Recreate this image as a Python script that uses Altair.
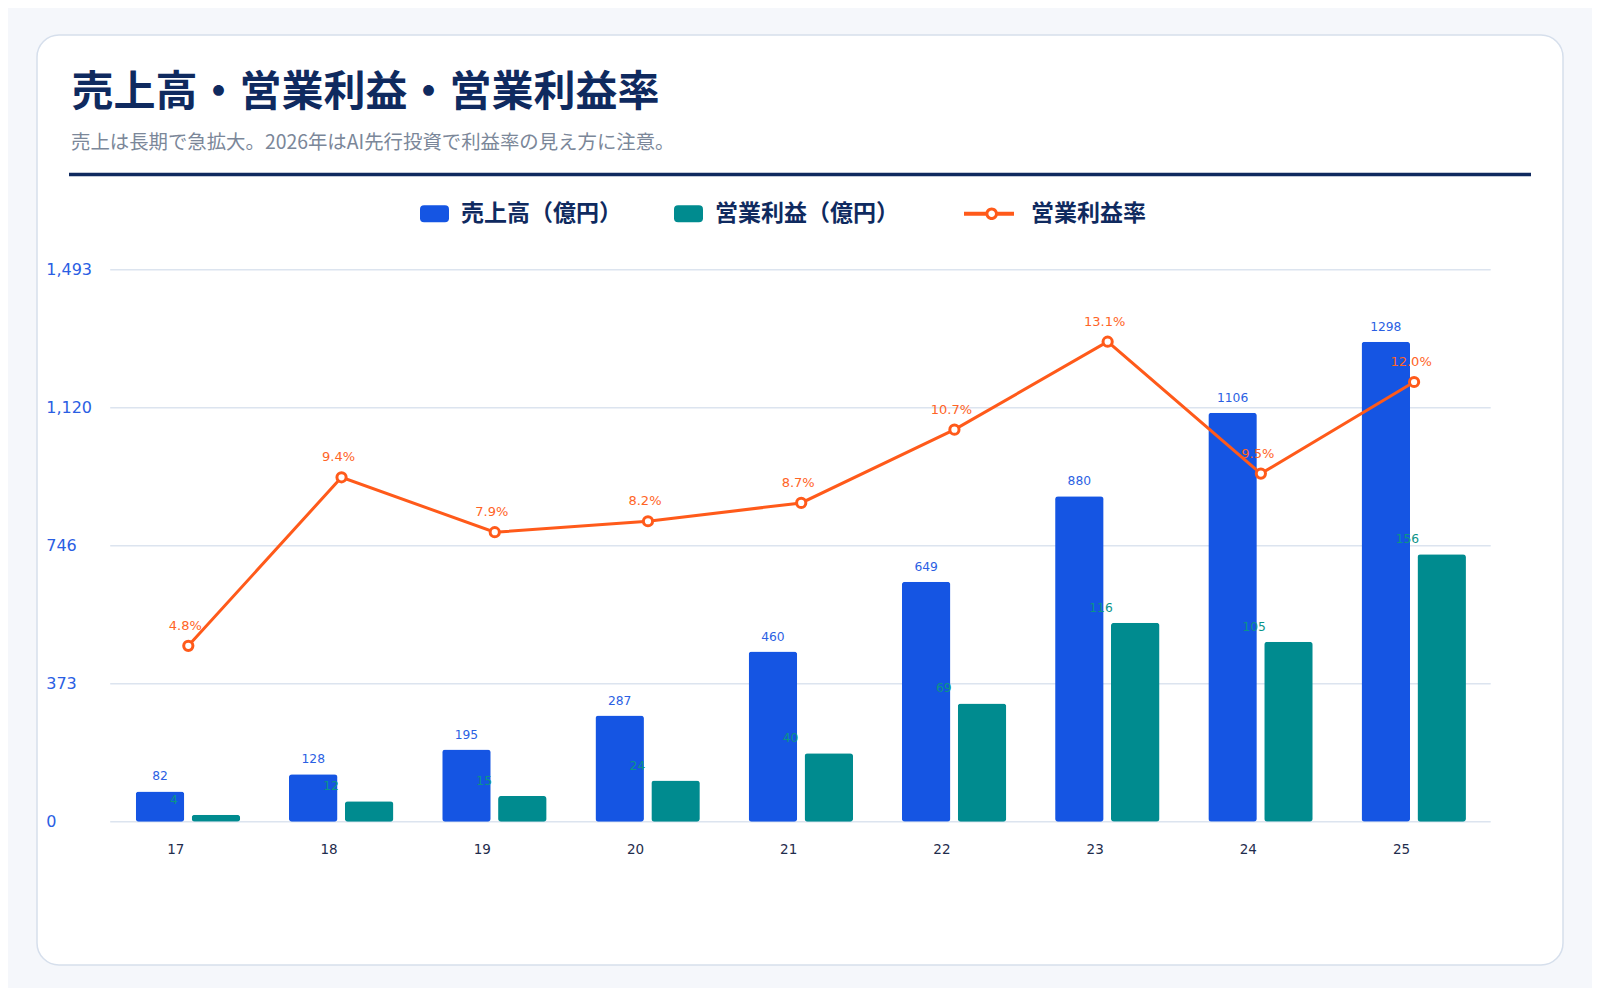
import altair as alt
import pandas as pd

# ---- data ----
years = ["17", "18", "19", "20", "21", "22", "23", "24", "25"]
revenue = [82, 128, 195, 287, 460, 649, 880, 1106, 1298]
profit = [4, 12, 15, 24, 40, 69, 116, 105, 156]
margin = [4.8, 9.4, 7.9, 8.2, 8.7, 10.7, 13.1, 9.5, 12.0]
series = ["売上高（億円）", "営業利益（億円）", "営業利益率"]
y_ticks = [0, 373.175, 746.35, 1119.525, 1492.7]
rev_domain = [0, 1492.7]
prof_domain = [0, 322]
margin_domain = [0, 15.065]

title_text = "売上高・営業利益・営業利益率"
subtitle_text = "売上は長期で急拡大。2026年はAI先行投資で利益率の見え方に注意。"

# ---- style ----
BLUE = "#1555e3"
TEAL = "#008b8f"
ORANGE = "#ff5a1a"
NAVY = "#0f2a5f"
GRID = "#dce4ef"
CJK = "Noto Sans CJK JP"
NUM = "DejaVu Sans"

df = pd.DataFrame({"yr": years, "rev": revenue, "prof": profit, "margin": margin})
one = pd.DataFrame({"k": [0]})
leg = pd.DataFrame({"s": series})
grid_df = pd.DataFrame({"v": y_ticks})

x_axis = alt.Axis(title=None, domain=False, ticks=False, tickSize=0, labelAngle=0,
                  labelFont=NUM, labelFontSize=13.5, labelColor="#1f2d4d",
                  labelPadding=21, labelOffset=-12.5, grid=False, zindex=1)
xenc = alt.X("yr:N", sort=years, axis=x_axis,
             scale=alt.Scale(paddingInner=0, paddingOuter=0))

# card / header decorations
card = alt.Chart(one).mark_rect(fill="white", stroke="#d6dfec", strokeWidth=1.5,
                                cornerRadius=22).encode(
    x=alt.value(-74.7), x2=alt.value(1451.3), y=alt.value(-234.7), y2=alt.value(695.3))
title = alt.Chart(one).mark_text(text=title_text, align="left", baseline="alphabetic",
                                 font=CJK, fontSize=42, fontWeight="bold", color=NAVY).encode(
    x=alt.value(-40.2), y=alt.value(-164.2))
subtitle = alt.Chart(one).mark_text(text=subtitle_text, align="left", baseline="alphabetic",
                                    font=CJK, fontSize=19.4, color="#7b8799").encode(
    x=alt.value(-40.7), y=alt.value(-120.5))
rule = alt.Chart(one).mark_rule(color=NAVY, strokeWidth=3.5).encode(
    x=alt.value(-42.7), x2=alt.value(1419.3), y=alt.value(-95.2))

# horizontal gridlines at the axis tick values
grid = alt.Chart(grid_df).mark_rule(color=GRID, strokeWidth=1.6).encode(
    y=alt.Y("v:Q", scale=alt.Scale(domain=rev_domain), axis=None),
    x=alt.value(-1.5), x2=alt.value(1379))

y_rev_axis = alt.Axis(title=None, values=y_ticks, format=",.0f", domain=False, ticks=False,
                      tickSize=0, labelAlign="left", labelBaseline="middle", labelPadding=66,
                      labelFont=NUM, labelFontSize=16, labelColor="#2a5ee3",
                      grid=False, zindex=1)

rev_bars = alt.Chart(df).mark_bar(color=BLUE, width=48.5, xOffset=-28.3, cornerRadius=3).encode(
    x=xenc, y=alt.Y("rev:Q", scale=alt.Scale(domain=rev_domain), axis=y_rev_axis))
prof_bars = alt.Chart(df).mark_bar(color=TEAL, width=48.5, xOffset=27.6, cornerRadius=3).encode(
    x=xenc, y=alt.Y("prof:Q", scale=alt.Scale(domain=prof_domain), axis=None))

rev_lbl = alt.Chart(df).mark_text(font=NUM, fontSize=12.3, color="#2b5fe3", align="center",
                                  baseline="middle", dx=-28.3, dy=-15).encode(
    x=xenc, y=alt.Y("rev:Q", scale=alt.Scale(domain=rev_domain), axis=None),
    text=alt.Text("rev:Q", format="d"))
prof_lbl = alt.Chart(df).mark_text(font=NUM, fontSize=12.3, color="#0b9488", align="left",
                                   baseline="middle", dx=-18.4, dy=-15).encode(
    x=xenc, y=alt.Y("prof:Q", scale=alt.Scale(domain=prof_domain), axis=None),
    text=alt.Text("prof:Q", format="d"))
mar_lbl = alt.Chart(df).transform_calculate(
    lbl="format(datum.margin, '.1f') + '%'"
).mark_text(font=NUM, fontSize=13, color="#ff6426", align="center",
            baseline="middle", dx=-3, dy=-20).encode(
    x=xenc, y=alt.Y("margin:Q", scale=alt.Scale(domain=margin_domain), axis=None),
    text="lbl:N")

line = alt.Chart(df).mark_line(color=ORANGE, strokeWidth=3).encode(
    x=xenc, y=alt.Y("margin:Q", scale=alt.Scale(domain=margin_domain), axis=None))
pts = alt.Chart(df).mark_point(shape="circle", filled=True, fill="white", stroke=ORANGE,
                               strokeWidth=3, size=85, opacity=1).encode(
    x=xenc, y=alt.Y("margin:Q", scale=alt.Scale(domain=margin_domain), axis=None))

# legend symbols (custom paths in unit square)
rect_path = ("M-0.72,-0.586 H0.72 Q1,-0.586 1,-0.306 V0.306 Q1,0.586 0.72,0.586 "
             "H-0.72 Q-1,0.586 -1,0.306 V-0.306 Q-1,-0.586 -0.72,-0.586 Z")
cx, ro, ri, h = -0.883, 0.434, 0.228, 0.13
line_path = (
    "M-3.65,0 Z "
    f"M-2.793,{-h} H-1.30 V{h} H-2.793 Z "
    f"M-0.47,{-h} H0.655 V{h} H-0.47 Z "
    f"M{cx-ro:.3f},0 A{ro},{ro} 0 1 1 {cx+ro:.3f},0 A{ro},{ro} 0 1 1 {cx-ro:.3f},0 Z "
    f"M{cx-ri:.3f},0 A{ri},{ri} 0 1 0 {cx+ri:.3f},0 A{ri},{ri} 0 1 0 {cx-ri:.3f},0 Z"
)
legend_def = alt.Legend(title=None, orient="none", legendX=308.3, legendY=-70.7,
                        direction="horizontal", padding=0, symbolSize=841,
                        symbolStrokeWidth=0, symbolOpacity=1, labelOffset=12,
                        columnPadding=52, labelFont=CJK, labelFontSize=23,
                        labelFontWeight="bold", labelColor=NAVY, labelLimit=400)
legend_layer = alt.Chart(leg).transform_filter("false").mark_point(filled=True).encode(
    color=alt.Color("s:N", scale=alt.Scale(domain=series, range=[BLUE, TEAL, ORANGE]),
                    legend=legend_def),
    shape=alt.Shape("s:N", scale=alt.Scale(domain=series,
                                           range=[rect_path, rect_path, line_path]),
                    legend=legend_def),
)

chart = alt.layer(
    card, title, subtitle, rule, grid,
    rev_bars, prof_bars, rev_lbl, prof_lbl, mar_lbl, line, pts, legend_layer
).resolve_scale(y="independent").properties(
    width=1379, height=552, autosize="none",
    padding={"left": 103.7, "top": 261.7, "right": 101.3, "bottom": 166.3},
    background="#f5f7fb",
).configure_view(stroke=None)

chart.save("out.html", embed_options={"renderer": "svg", "actions": False})
